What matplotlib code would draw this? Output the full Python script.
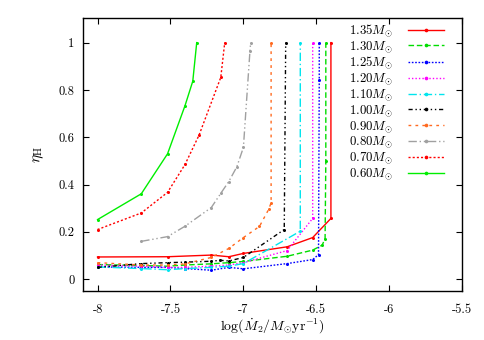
import matplotlib
matplotlib.use("Agg")
import matplotlib.pyplot as plt

plt.rcParams['font.family'] = ['cmr10', 'DejaVu Serif']
plt.rcParams['mathtext.fontset'] = 'cm'
plt.rcParams['axes.unicode_minus'] = False

labels = ["1.35", "1.30", "1.25", "1.20", "1.10", "1.00", "0.90", "0.80", "0.70", "0.60"]

x135 = [-8, -7.52, -7.22, -7.1, -7.0, -6.7, -6.525, -6.4, -6.4]
y135 = [0.094, 0.095, 0.102, 0.095, 0.109, 0.137, 0.176, 0.257, 1.0]

x130 = [-8, -7.7, -7.52, -7.4, -7.22, -7.1, -7.0, -6.7, -6.525, -6.46, -6.44, -6.435, -6.435]
y130 = [0.062, 0.058, 0.055, 0.06, 0.065, 0.07, 0.075, 0.097, 0.123, 0.144, 0.172, 0.5, 1.0]

x125 = [-8, -7.7, -7.52, -7.4, -7.22, -7.1, -7.0, -6.7, -6.525, -6.485, -6.48, -6.48]
y125 = [0.052, 0.05, 0.05, 0.045, 0.038, 0.05, 0.044, 0.066, 0.083, 0.104, 0.843, 1.0]

x120 = [-8, -7.7, -7.52, -7.4, -7.22, -7.1, -7.0, -6.7, -6.525, -6.525]
y120 = [0.06, 0.055, 0.05, 0.05, 0.055, 0.06, 0.07, 0.121, 0.257, 1.0]

x110 = [-8, -7.7, -7.52, -7.4, -7.22, -7.1, -7.0, -6.61, -6.61]
y110 = [0.052, 0.045, 0.04, 0.045, 0.05, 0.055, 0.066, 0.203, 1.0]

x100 = [-8, -7.7, -7.52, -7.4, -7.22, -7.16, -7.1, -7.0, -6.72, -6.71]
y100 = [0.05, 0.066, 0.07, 0.072, 0.076, 0.08, 0.077, 0.092, 0.21, 1.0]

x090 = [-8, -7.7, -7.52, -7.4, -7.22, -7.1, -7.0, -6.89, -6.827, -6.81, -6.81]
y090 = [0.07, 0.06, 0.06, 0.065, 0.092, 0.13, 0.176, 0.223, 0.295, 0.323, 1.0]

x080 = [-7.7, -7.52, -7.4, -7.22, -7.155, -7.1, -7.045, -7.0, -6.955, -6.95]
y080 = [0.16, 0.18, 0.224, 0.303, 0.363, 0.413, 0.475, 0.557, 0.965, 1.0]

x070 = [-8, -7.7, -7.52, -7.4, -7.304, -7.155, -7.128]
y070 = [0.21, 0.28, 0.367, 0.485, 0.609, 0.853, 1.0]

x060 = [-8, -7.7, -7.52, -7.4, -7.347, -7.32]
y060 = [0.252, 0.361, 0.53, 0.734, 0.837, 1.0]

xs = [x135, x130, x125, x120, x110, x100, x090, x080, x070, x060]
ys = [y135, y130, y125, y120, y110, y100, y090, y080, y070, y060]

colors = ['#ff0000', '#00dd00', '#0000ff', '#ff00ff', '#00e5ee', '#000000',
          '#ff6a20', '#a0a0a0', '#ff0000', '#00ee00']
styles = ['-', (0, (4, 2)), (0, (1.2, 1.2)), (0, (1, 1.5)), (0, (6, 2, 1, 2)),
          (0, (3, 2, 1, 2, 1, 2)), (0, (2, 3)), (0, (6, 2, 1, 2, 1, 2)),
          (0, (1.5, 1.5)), '-']

fig = plt.figure(figsize=(4.85, 3.40), dpi=100)
ax = fig.add_axes([0.171, 0.144, 0.782, 0.803])

for x, y, c, s, lab in zip(xs, ys, colors, styles, labels):
    ax.plot(x, y, color=c, linestyle=s, linewidth=1.0, marker='o', markersize=2.2,
            markeredgewidth=0, label=r'$%s M_{\odot}$' % lab)

ax.set_xlim(-8.1, -5.5)
ax.set_ylim(-0.05, 1.104)
xt = [-8, -7.5, -7, -6.5, -6, -5.5]
ax.set_xticks(xt)
ax.set_xticklabels(['-8', '-7.5', '-7', '-6.5', '-6', '-5.5'])
yt = [0, 0.2, 0.4, 0.6, 0.8, 1]
ax.set_yticks(yt)
ax.set_yticklabels(['0', '0.2', '0.4', '0.6', '0.8', '1'])
ax.tick_params(direction='in', top=True, right=True, length=4, width=0.8, labelsize=9)
ax.tick_params(axis='x', pad=9)
ax.tick_params(axis='y', pad=6)
for sp in ax.spines.values():
    sp.set_linewidth(1.0)

ax.set_xlabel(r'$\log(\dot{M}_2/M_{\odot}{\rm yr}^{-1})$', fontsize=10, labelpad=0)
ax.set_ylabel(r'$\eta_{\rm H}$', fontsize=11, labelpad=9)

leg = ax.legend(loc='upper right', bbox_to_anchor=(0.975, 1.018), frameon=False,
                markerfirst=False, fontsize=9.3, handlelength=2.8, handletextpad=1.1,
                labelspacing=0.0, borderpad=0.2, markerscale=1.2)

fig.savefig('out.png', dpi=100)
